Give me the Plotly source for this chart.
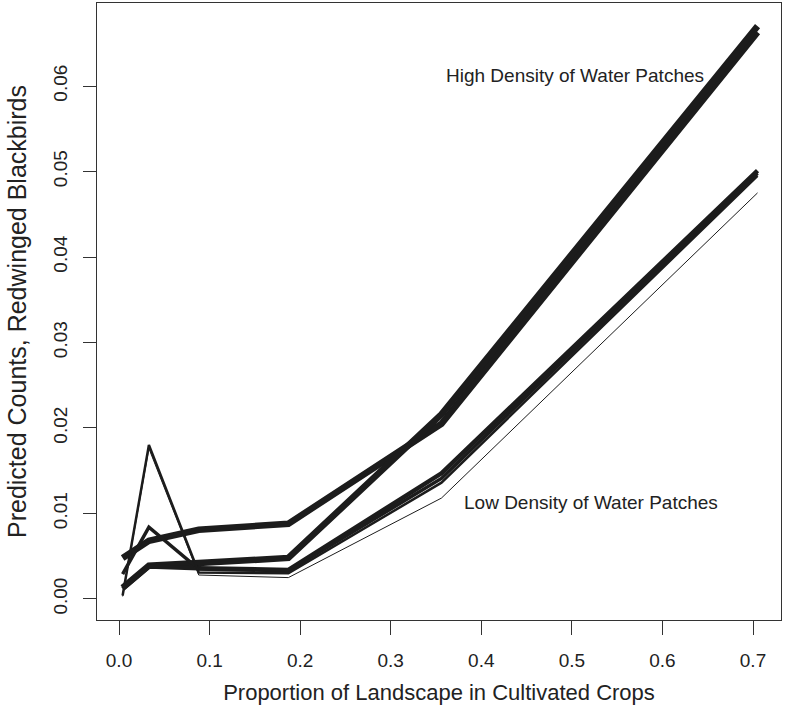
import plotly.graph_objects as go

# Proportion of landscape in cultivated crops (x positions of predictions)
crop_prop = [0.004, 0.033, 0.088, 0.187, 0.356, 0.705]

# Predicted counts for each profile
high_a = [0.0048, 0.0068, 0.0081, 0.0088, 0.0205, 0.0663]
high_b = [0.0013, 0.0039, 0.0042, 0.0048, 0.0216, 0.0670]
low_a = [0.0012, 0.0038, 0.0036, 0.0034, 0.0147, 0.0501]
low_b = [0.0029, 0.0084, 0.0035, 0.0033, 0.0141, 0.0498]
low_c = [0.0004, 0.0180, 0.0031, 0.0030, 0.0136, 0.0495]
low_d = [0.0003, 0.0176, 0.0028, 0.0025, 0.0118, 0.0475]

series = [high_a, high_b, low_a, low_b, low_c, low_d]
widths = [6.5, 6.5, 4.5, 3.5, 2.5, 1.0]

x_ticks = [0.0, 0.1, 0.2, 0.3, 0.4, 0.5, 0.6, 0.7]
x_tick_text = ["0.0", "0.1", "0.2", "0.3", "0.4", "0.5", "0.6", "0.7"]
y_ticks = [0.00, 0.01, 0.02, 0.03, 0.04, 0.05, 0.06]
y_tick_text = ["0.00", "0.01", "0.02", "0.03", "0.04", "0.05", "0.06"]

FONT = "Liberation Sans, Arial, Helvetica, sans-serif"
INK = "#1c1c1c"
TXT = "#222222"

fig = go.Figure()
for ys, w in zip(series, widths):
    fig.add_trace(go.Scatter(
        x=crop_prop, y=ys, mode="lines",
        line=dict(color=INK, width=w),
        showlegend=False, hoverinfo="skip",
    ))

fig.add_annotation(x=0.5035, y=0.0612, text="High Density of Water Patches",
                   showarrow=False, font=dict(family=FONT, size=19, color=TXT))
fig.add_annotation(x=0.521, y=0.01123, text="Low Density of Water Patches",
                   showarrow=False, font=dict(family=FONT, size=19, color=TXT))

fig.update_layout(
    width=785, height=712,
    margin=dict(l=97, r=4, t=3, b=92),
    paper_bgcolor="white", plot_bgcolor="white",
    font=dict(family=FONT, size=19, color=TXT),
    xaxis=dict(
        range=[-0.0243, 0.7309], tickvals=x_ticks, ticktext=x_tick_text,
        showgrid=False, zeroline=False,
        showline=True, mirror=True, linecolor="#333333", linewidth=1.2,
        ticks="outside", ticklen=14, tickcolor="#333333", tickwidth=1.2,
        ticklabelstandoff=9,
        tickfont=dict(family=FONT, size=19, color=TXT),
        title=dict(text="Proportion of Landscape in Cultivated Crops",
                   font=dict(family=FONT, size=22, color=TXT), standoff=14),
    ),
    yaxis=dict(
        range=[-0.00246, 0.06971], tickvals=y_ticks, ticktext=y_tick_text,
        showgrid=False, zeroline=False,
        showline=True, mirror=True, linecolor="#333333", linewidth=1.2,
        ticks="outside", ticklen=13, tickcolor="#333333", tickwidth=1.2,
        tickangle=-90, ticklabelstandoff=8,
        tickfont=dict(family=FONT, size=19, color=TXT),
        title=dict(text="Predicted Counts, Redwinged Blackbirds",
                   font=dict(family=FONT, size=25, color=TXT), standoff=16),
    ),
)

fig.write_html("out.html")
